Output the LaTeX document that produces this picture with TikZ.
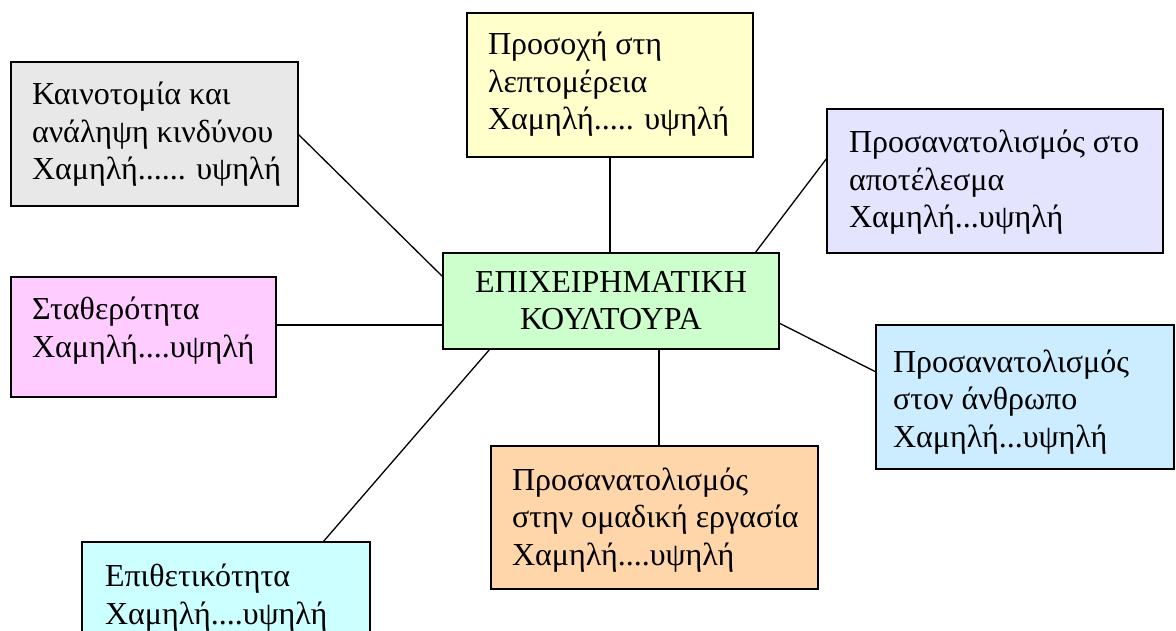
\documentclass[tikz,border=0pt]{standalone}
\usepackage{fontspec}
\setmainfont{Liberation Serif}
\begin{document}
\begin{tikzpicture}[x=1pt,y=-1pt,
  panel/.style={draw=black, line width=1.6pt, rectangle, inner sep=0pt, outer sep=0pt, anchor=north west},
  label/.style={inner sep=0pt, outer sep=0pt, anchor=base west, align=left, font=\fontsize{32}{37.5}\selectfont},
  link/.style={draw=black, line width=1.3pt}]
\useasboundingbox (0,0) rectangle (1176,631);
\clip (0,0) rectangle (1176,631);

% outer boxes
\node[panel, fill={rgb,255:red,232;green,232;blue,232}, minimum width=287pt, minimum height=144pt] (b1) at (11,62) {};
\node[panel, fill={rgb,255:red,255;green,255;blue,204}, minimum width=286pt, minimum height=144pt] (b2) at (467,13) {};
\node[panel, fill={rgb,255:red,228;green,228;blue,255}, minimum width=336pt, minimum height=144pt] (b3) at (827,109) {};
\node[panel, fill={rgb,255:red,255;green,204;blue,255}, minimum width=265pt, minimum height=120pt] (b5) at (11,277) {};
\node[panel, fill={rgb,255:red,204;green,236;blue,255}, minimum width=298pt, minimum height=144pt] (b6) at (876,325) {};
\node[panel, fill={rgb,255:red,255;green,214;blue,170}, minimum width=327pt, minimum height=143pt] (b7) at (491,446) {};
\node[panel, fill={rgb,255:red,204;green,255;blue,255}, minimum width=288pt, minimum height=144pt] (b8) at (82,542) {};

% central box
\node[panel, fill={rgb,255:red,204;green,255;blue,204}, minimum width=336pt, minimum height=96pt,
      align=center, font=\fontsize{32}{37}\selectfont] (c) at (443,253)
  {ΕΠΙΧΕΙΡΗΜΑΤΙΚΗ\\ΚΟΥΛΤΟΥΡΑ};

% box texts (anchored on the baseline of their last line)
\node[label] (t1) at ([shift={(21,118)}]b1.north west) {Καινοτομία και\\ανάληψη κινδύνου\\Χαμηλή...... υψηλή};
\node[label] (t2) at ([shift={(21,117)}]b2.north west) {Προσοχή στη\\λεπτομέρεια\\Χαμηλή..... υψηλή};
\node[label] (t3) at ([shift={(22,119)}]b3.north west) {Προσανατολισμός στο\\αποτέλεσμα\\Χαμηλή...υψηλή};
\node[label] (t5) at ([shift={(21,80)}]b5.north west) {Σταθερότητα\\Χαμηλή....υψηλή};
\node[label] (t6) at ([shift={(17,122)}]b6.north west) {Προσανατολισμός\\στον άνθρωπο\\Χαμηλή...υψηλή};
\node[label] (t7) at ([shift={(21,119)}]b7.north west) {Προσανατολισμός\\στην ομαδική εργασία\\Χαμηλή....υψηλή};
\node[label] (t8) at ([shift={(23,82)}]b8.north west) {Επιθετικότητα\\Χαμηλή....υψηλή};

% connectors
\draw[link] (b1.east) -- ([yshift=-24pt]c.north west);
\draw[link] (b2.south) -- (b2.south |- c.north);
\draw[link] ([yshift=23pt]b3.west) -- ([xshift=-24pt]c.north east);
\draw[link] ([yshift=12pt]b5.east) -- ([yshift=12pt]b5.east -| c.west);
\draw[link] ([yshift=25pt]b6.west) -- ([yshift=-22pt]c.east);
\draw[link] ([xshift=48pt]c.south) -- ([xshift=48pt]c.south |- b7.north);
\draw[link] ([xshift=97pt]b8.north) -- ([xshift=47pt]c.south west);
\end{tikzpicture}
\end{document}
